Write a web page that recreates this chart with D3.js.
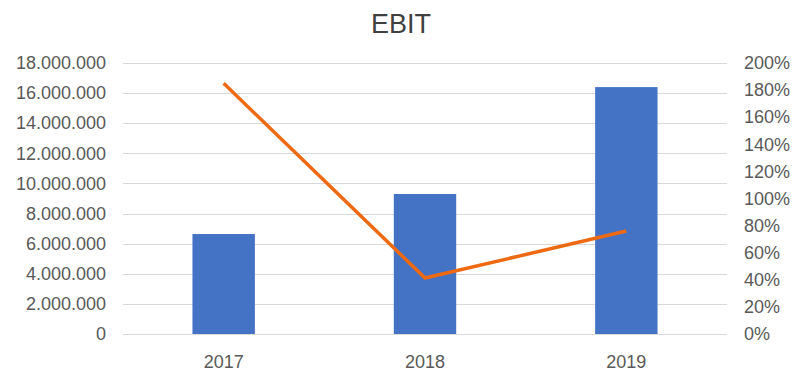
<!DOCTYPE html>
<html>
<head>
<meta charset="utf-8">
<script src="https://cdnjs.cloudflare.com/ajax/libs/d3/7.8.5/d3.min.js"></script>
<style>
  body { margin: 0; background: #fff; }
  text { font-family: "Liberation Sans", Arial, sans-serif; fill: #595959; }
</style>
</head>
<body>
<div id="chart"></div>
<script>
// Chart data
var years = ["2017", "2018", "2019"];
var ebit = [6640000, 9300000, 16400000];
var growth = [1.85, 0.413, 0.76];
var leftTicks = [0, 2000000, 4000000, 6000000, 8000000, 10000000, 12000000, 14000000, 16000000, 18000000];
var rightTicks = [0, 0.2, 0.4, 0.6, 0.8, 1.0, 1.2, 1.4, 1.6, 1.8, 2.0];

var svgWidth = 800, svgHeight = 384;
var margin = { top: 63, bottom: 50, left: 123, right: 73 };
var width = svgWidth - margin.left - margin.right;
var height = svgHeight - margin.top - margin.bottom;

var svg = d3.select("#chart")
  .append("svg")
  .attr("width", svgWidth)
  .attr("height", svgHeight);

// Title
svg.append("text")
  .attr("x", svgWidth / 2 + 1)
  .attr("y", 33)
  .attr("text-anchor", "middle")
  .attr("font-size", "27px")
  .style("fill", "#404040")
  .text("EBIT");

var chartGroup = svg.append("g")
  .attr("transform", `translate(${margin.left}, ${margin.top})`);

// Scales
var xScale = d3.scaleBand()
  .domain(years)
  .range([0, width])
  .padding(0);

var yLeft = d3.scaleLinear()
  .domain([0, 18000000])
  .range([height, 0]);

var yRight = d3.scaleLinear()
  .domain([0, 2])
  .range([height, 0]);

// Gridlines
chartGroup.append("g")
  .selectAll("line")
  .data(leftTicks)
  .enter()
  .append("line")
  .attr("x1", 0)
  .attr("x2", width)
  .attr("y1", d => Math.round(yLeft(d)) + 0.5)
  .attr("y2", d => Math.round(yLeft(d)) + 0.5)
  .attr("stroke", "#d9d9d9")
  .attr("stroke-width", 1);

// Axes
var fmtNum = d => d3.format(",")(d).replace(/,/g, ".");
var leftAxis = d3.axisLeft(yLeft)
  .tickValues(leftTicks)
  .tickFormat(fmtNum)
  .tickSize(0)
  .tickPadding(17);

var rightAxis = d3.axisRight(yRight)
  .tickValues(rightTicks)
  .tickFormat(d3.format(".0%"))
  .tickSize(0)
  .tickPadding(17);

var bottomAxis = d3.axisBottom(xScale)
  .tickSize(0)
  .tickPadding(21);

[chartGroup.append("g").call(leftAxis),
 chartGroup.append("g").attr("transform", `translate(${width}, 0)`).call(rightAxis),
 chartGroup.append("g").attr("transform", `translate(0, ${height})`).call(bottomAxis)
].forEach(function(g) {
  g.select(".domain").remove();
  g.selectAll("text")
    .attr("font-size", "18px")
    .style("font-family", "'Liberation Sans', Arial, sans-serif")
    .style("fill", "#595959");
});

// Bars
var barWidth = xScale.bandwidth() * 0.31;
chartGroup.selectAll("rect.bar")
  .data(ebit)
  .enter()
  .append("rect")
  .attr("class", "bar")
  .attr("x", (d, i) => xScale(years[i]) + xScale.bandwidth() / 2 - barWidth / 2)
  .attr("y", d => yLeft(d))
  .attr("width", barWidth)
  .attr("height", d => height - yLeft(d))
  .attr("fill", "#4472c4");

// Line
var line = d3.line()
  .x((d, i) => xScale(years[i]) + xScale.bandwidth() / 2)
  .y(d => yRight(d));

chartGroup.append("path")
  .datum(growth)
  .attr("d", line)
  .attr("fill", "none")
  .attr("stroke", "#ed6a12")
  .attr("stroke-width", 3.5)
  .attr("stroke-linejoin", "miter");
</script>
</body>
</html>
